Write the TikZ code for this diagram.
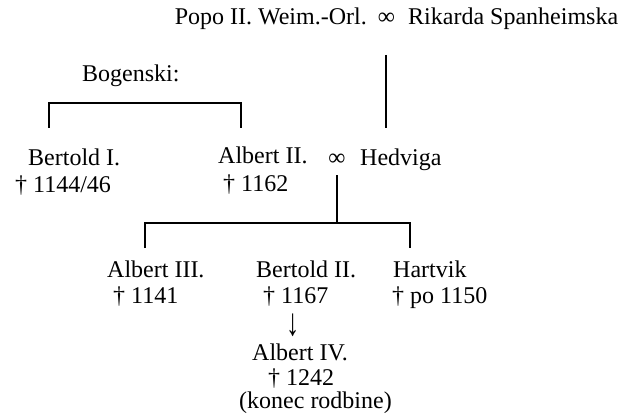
\documentclass[tikz,border=0pt]{standalone}
\usepackage{graphicx}
\usepackage{fontspec}
\setmainfont{Liberation Serif}
\begin{document}
\begin{tikzpicture}[x=1pt,y=-1pt,
  txt/.style={inner sep=0pt, font=\fontsize{24}{28}\selectfont},
  w/.style={txt, anchor=base west},
  e/.style={txt, anchor=base east},
  c/.style={txt, anchor=base},
  ln/.style={line width=1.2pt, line cap=butt, line join=miter}]
\useasboundingbox (0,0) rectangle (621,417);
% top couple
\node[e] (popo) at (367,25) {Popo II. Weim.-Orl.};
\node[c] (m1) at (386.5,25) {∞};
\node[w] (rik) at (408,25) {Rikarda Spanheimska};
% Bogenski
\node[w] (bog) at (82,82) {Bogenski:};
\node[w] (bert1) at (28,165) {Bertold I.};
\node[w] (bert1d) at (15,192) {† 1144/46};
\node[w] (alb2) at (218,164) {Albert II.};
\node[w] (alb2d) at (223,191) {† 1162};
\node[c] (m2) at (337,165) {∞};
\node[w] (hed) at (360,165) {Hedviga};
% children
\node[w] (alb3) at (107,277) {Albert III.};
\node[w] (alb3d) at (113,303) {† 1141};
\node[w] (bert2) at (256,277) {Bertold II.};
\node[w] (bert2d) at (263,303) {† 1167};
\node[w] (hart) at (393,277) {Hartvik};
\node[w] (hartd) at (392,303) {† po 1150};
\node[c] (arr) at (293,335) {\smash{\scalebox{1.1}[1.6]{↓}}};
\node[w] (alb4) at (252,360) {Albert IV.};
\node[w] (alb4d) at (268,385) {† 1242};
\node[w] (konec) at (239,408) {(konec rodbine)};
% connector coordinates
\coordinate (t1) at (386,55);
\coordinate (t2) at (386,128);
\coordinate (b1) at (49,128);
\coordinate (b2) at (49,103);
\coordinate (b3) at (241,103);
\coordinate (b4) at (241,128);
\coordinate (c1) at (337,175);
\coordinate (c2) at (337,223);
\coordinate (k1) at (145,248);
\coordinate (k2) at (145,223);
\coordinate (k3) at (410,223);
\coordinate (k4) at (410,248);
\draw[ln] (t1) -- (t2);
\draw[ln] (b1) -- (b2) -- (b3) -- (b4);
\draw[ln] (c1) -- (c2);
\draw[ln] (k1) -- (k2) -- (k3) -- (k4);
\end{tikzpicture}
\end{document}
